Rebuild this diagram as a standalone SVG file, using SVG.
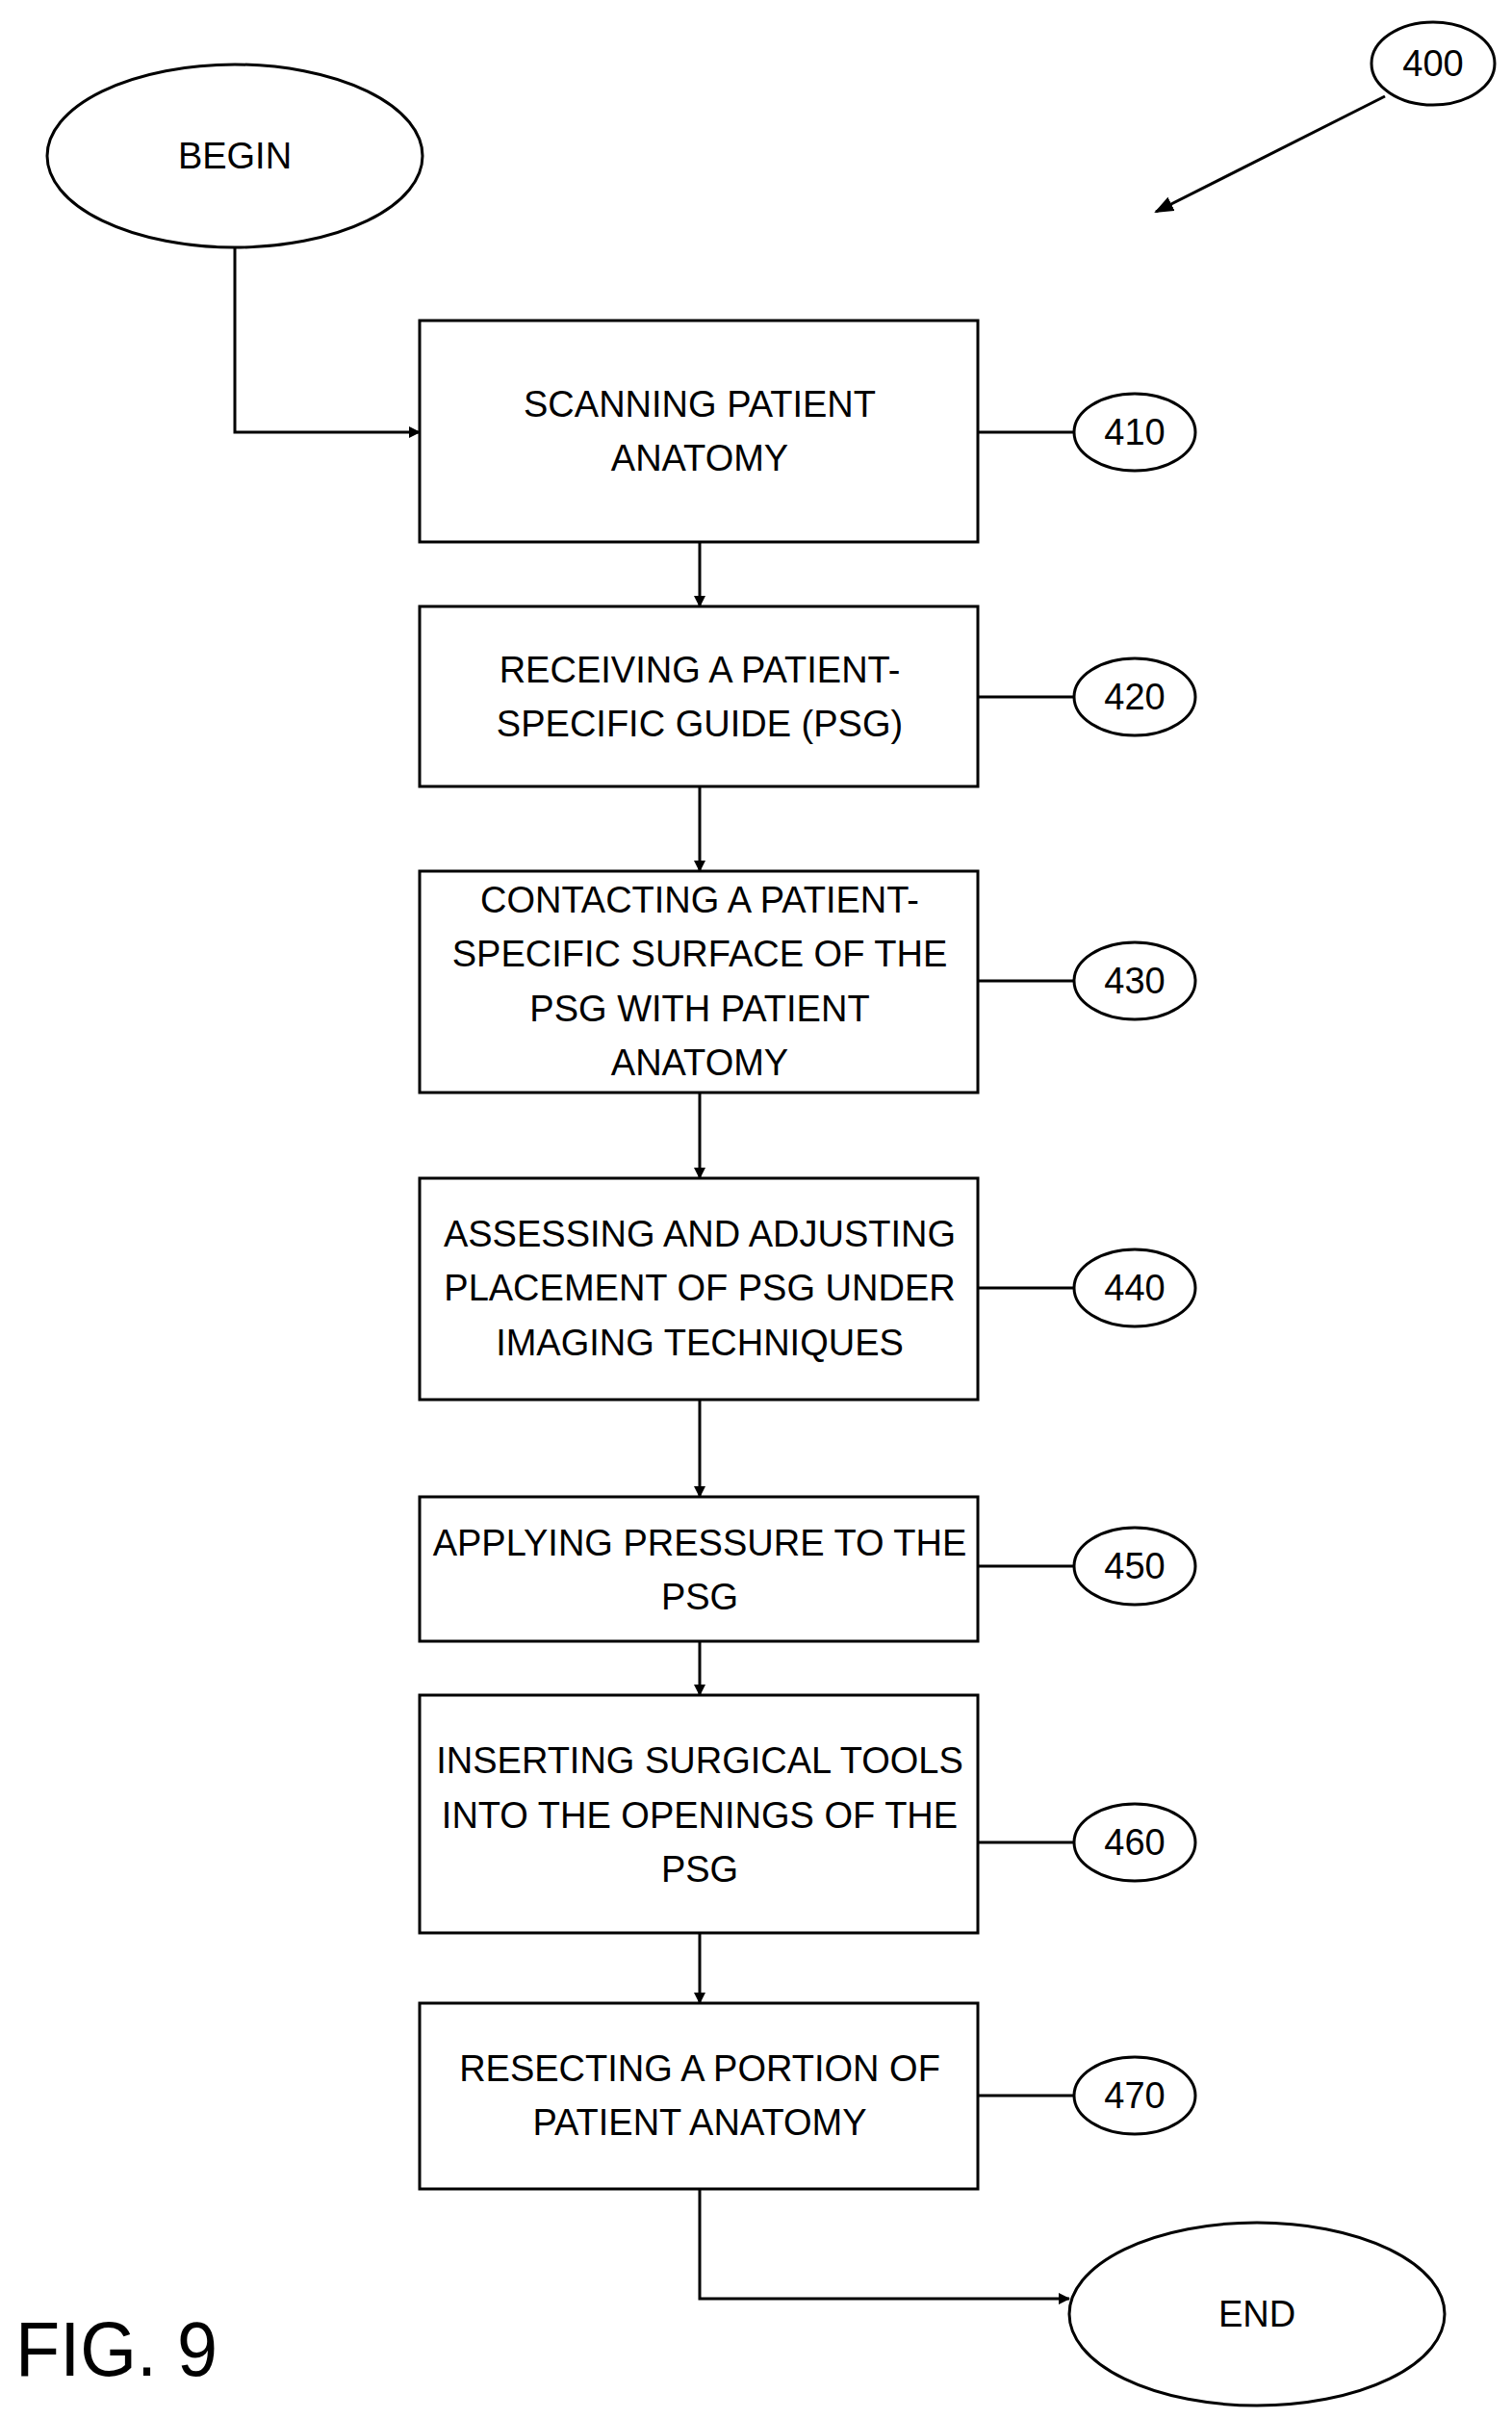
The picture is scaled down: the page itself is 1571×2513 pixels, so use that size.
<svg xmlns="http://www.w3.org/2000/svg" width="1571" height="2513" viewBox="0 0 1571 2513">
<style>
.s{fill:#fff;stroke:#000;stroke-width:3}
.c{fill:none;stroke:#000;stroke-width:3}
text{font-family:"Liberation Sans",Arial,sans-serif;font-size:38px;text-anchor:middle;dominant-baseline:central;fill:#000}
</style>
<defs><marker id="a" markerWidth="12" markerHeight="12" refX="11" refY="6" orient="auto" markerUnits="userSpaceOnUse" viewBox="0 0 12 12"><path d="M0,0 L12,6 L0,12z" fill="#000"/></marker>
<marker id="b" markerWidth="20" markerHeight="16" refX="18" refY="8" orient="auto" markerUnits="userSpaceOnUse" viewBox="0 0 20 16"><path d="M0,0 L20,8 L0,16z" fill="#000"/></marker></defs>
<g id="connectors">
<path class="c" d="M244,257 V449 H436" marker-end="url(#a)"/>
<path class="c" d="M727,563 V630" marker-end="url(#a)"/>
<path class="c" d="M727,817 V905" marker-end="url(#a)"/>
<path class="c" d="M727,1135 V1224" marker-end="url(#a)"/>
<path class="c" d="M727,1454 V1555" marker-end="url(#a)"/>
<path class="c" d="M727,1705 V1761" marker-end="url(#a)"/>
<path class="c" d="M727,2008 V2081" marker-end="url(#a)"/>
<path class="c" d="M727,2274 V2388 H1111" marker-end="url(#a)"/>
<path class="c" d="M1016,449 H1116 M1016,724 H1116 M1016,1019 H1116 M1016,1338 H1116 M1016,1627 H1116 M1016,1914 H1116 M1016,2177 H1116"/>
<path class="c" d="M1439,100 L1201,220" marker-end="url(#b)"/>
</g>
<g id="begin"><ellipse class="s" cx="244" cy="162" rx="195" ry="95"/><text x="244" y="162">BEGIN</text></g>
<g id="end"><ellipse class="s" cx="1306" cy="2404" rx="195" ry="95"/><text x="1306" y="2404">END</text></g>
<g id="ref400"><ellipse class="s" cx="1489" cy="66" rx="64" ry="43"/><text x="1489" y="66">400</text></g>
<g id="n410"><rect class="s" x="436" y="333" width="580" height="230"/><text x="727" y="420">SCANNING PATIENT</text><text x="727" y="476">ANATOMY</text><ellipse class="s" cx="1179" cy="449" rx="63" ry="40"/><text x="1179" y="449">410</text></g>
<g id="n420"><rect class="s" x="436" y="630" width="580" height="187"/><text x="727" y="696">RECEIVING A PATIENT-</text><text x="727" y="752">SPECIFIC GUIDE (PSG)</text><ellipse class="s" cx="1179" cy="724" rx="63" ry="40"/><text x="1179" y="724">420</text></g>
<g id="n430"><rect class="s" x="436" y="905" width="580" height="230"/><text x="727" y="935">CONTACTING A PATIENT-</text><text x="727" y="991">SPECIFIC SURFACE OF THE</text><text x="727" y="1048">PSG WITH PATIENT</text><text x="727" y="1104">ANATOMY</text><ellipse class="s" cx="1179" cy="1019" rx="63" ry="40"/><text x="1179" y="1019">430</text></g>
<g id="n440"><rect class="s" x="436" y="1224" width="580" height="230"/><text x="727" y="1282">ASSESSING AND ADJUSTING</text><text x="727" y="1338">PLACEMENT OF PSG UNDER</text><text x="727" y="1395">IMAGING TECHNIQUES</text><ellipse class="s" cx="1179" cy="1338" rx="63" ry="40"/><text x="1179" y="1338">440</text></g>
<g id="n450"><rect class="s" x="436" y="1555" width="580" height="150"/><text x="727" y="1603">APPLYING PRESSURE TO THE</text><text x="727" y="1659">PSG</text><ellipse class="s" cx="1179" cy="1627" rx="63" ry="40"/><text x="1179" y="1627">450</text></g>
<g id="n460"><rect class="s" x="436" y="1761" width="580" height="247"/><text x="727" y="1829">INSERTING SURGICAL TOOLS</text><text x="727" y="1886">INTO THE OPENINGS OF THE</text><text x="727" y="1942">PSG</text><ellipse class="s" cx="1179" cy="1914" rx="63" ry="40"/><text x="1179" y="1914">460</text></g>
<g id="n470"><rect class="s" x="436" y="2081" width="580" height="193"/><text x="727" y="2149">RESECTING A PORTION OF</text><text x="727" y="2205">PATIENT ANATOMY</text><ellipse class="s" cx="1179" cy="2177" rx="63" ry="40"/><text x="1179" y="2177">470</text></g>
<text x="16" y="2440" style="font-size:80px;text-anchor:start" textLength="210" lengthAdjust="spacingAndGlyphs">FIG. 9</text>
</svg>
